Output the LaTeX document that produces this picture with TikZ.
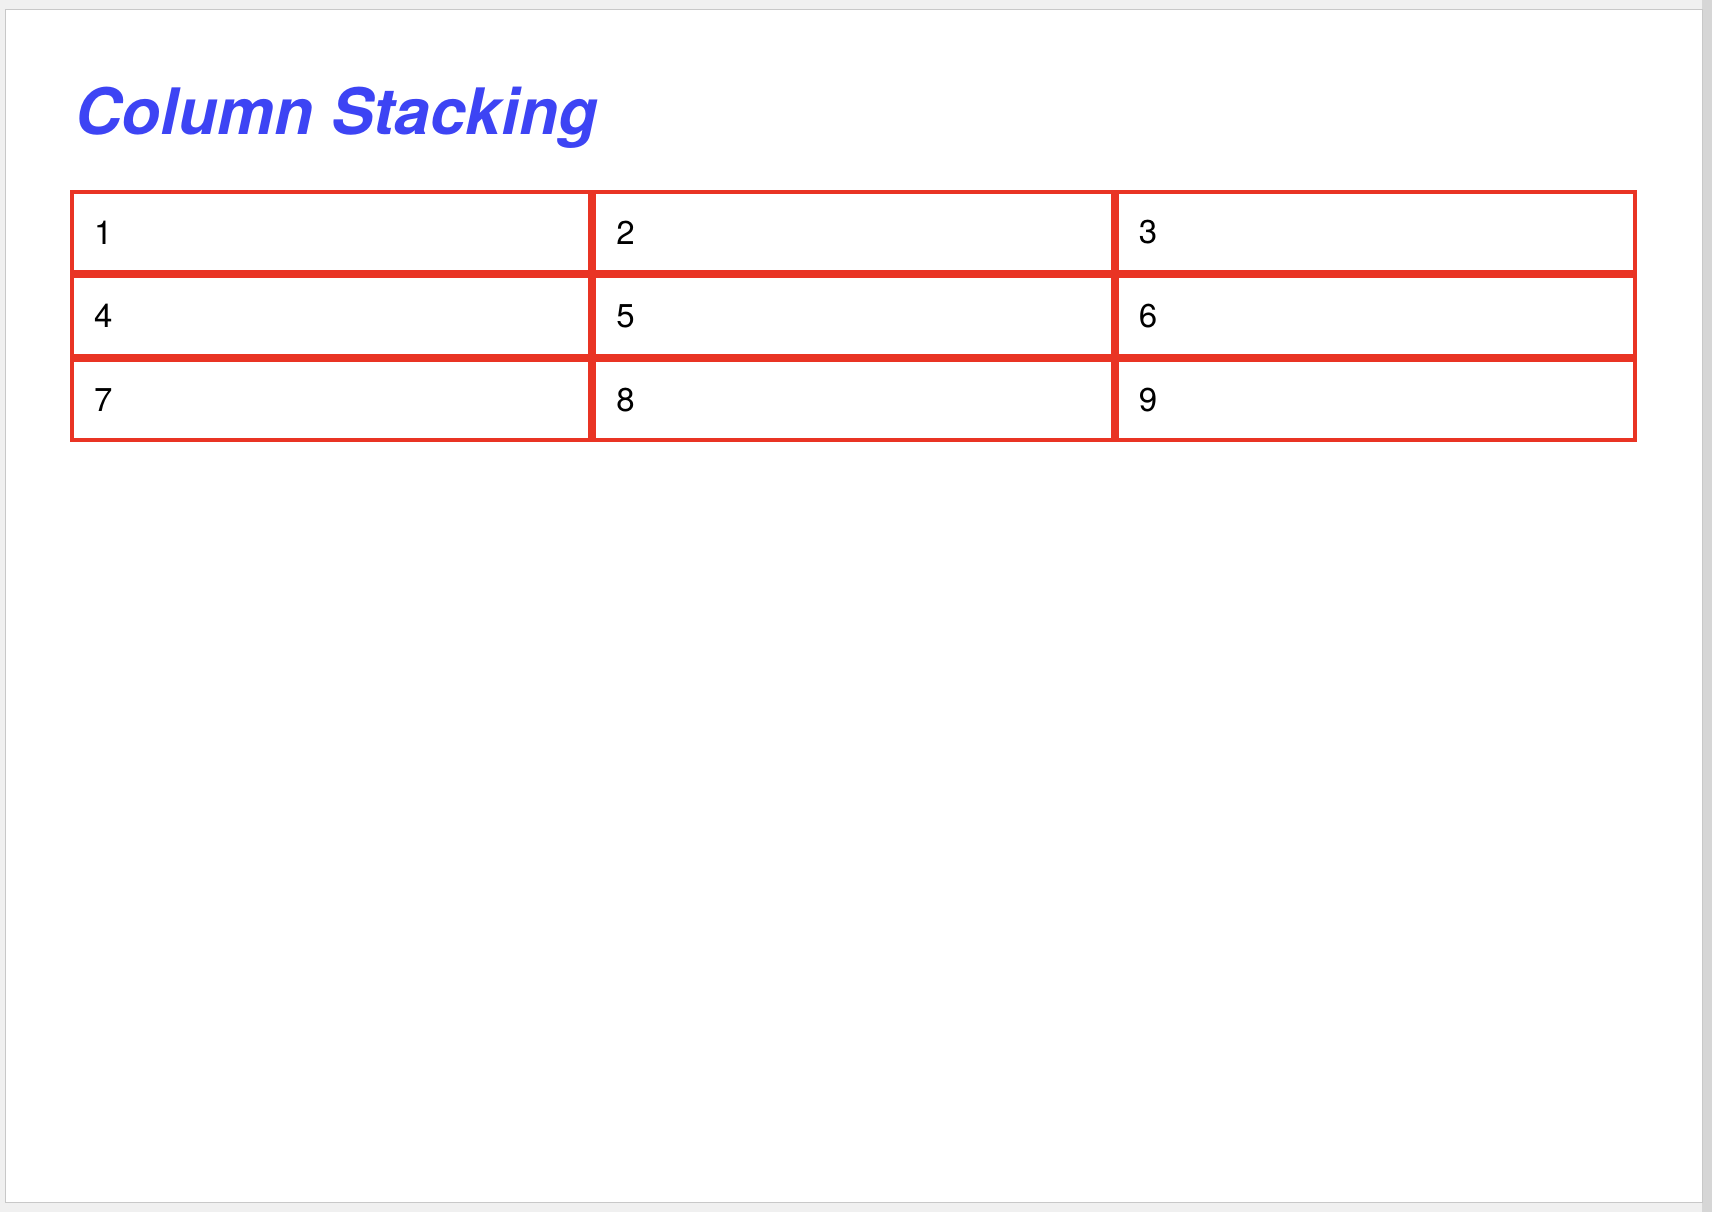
\documentclass[tikz,border=0pt]{standalone}
\usepackage{fontspec}
\setmainfont{TeX Gyre Heros}
\usetikzlibrary{positioning}
\definecolor{cellred}{HTML}{E93424}
\definecolor{titleblue}{HTML}{3D44F4}
\definecolor{pagegray}{HTML}{F0F0F0}
\definecolor{shadowgray}{HTML}{D6D6D6}
\definecolor{edgegray}{HTML}{C8C8C8}

\begin{document}
\begin{tikzpicture}[node distance=0pt]
% Define styles
\tikzstyle{cell} = [rectangle, draw=cellred, line width=1.95pt, minimum width=259.2pt, minimum height=40pt, inner xsep=11.1pt, text width=237pt, align=left, font=\fontsize{16.5}{19}\selectfont]
\tikzstyle{heading} = [inner sep=0pt, text=titleblue, font=\fontsize{32}{38}\selectfont\bfseries\itshape]

% Page
\useasboundingbox (0,0) rectangle (856pt,-606pt);
\fill[pagegray] (0,0) rectangle (856pt,-606pt);
\fill[shadowgray] (851pt,0) rectangle (856pt,-606pt);
\draw[edgegray, fill=white, line width=0.5pt] (2.5pt,-4.65pt) rectangle (851pt,-601.15pt);

% Title
\node (title) [heading, anchor=base west] at (37.5pt,-67.2pt) {Column Stacking};

% Cells
\node (c1) [cell, anchor=north west] at (35pt,-95.2pt) {1};
\node (c2) [cell, right=of c1] {2};
\node (c3) [cell, right=of c2] {3};
\node (c4) [cell, below=of c1] {4};
\node (c5) [cell, right=of c4] {5};
\node (c6) [cell, right=of c5] {6};
\node (c7) [cell, below=of c4] {7};
\node (c8) [cell, right=of c7] {8};
\node (c9) [cell, right=of c8] {9};
\end{tikzpicture}
\end{document}
